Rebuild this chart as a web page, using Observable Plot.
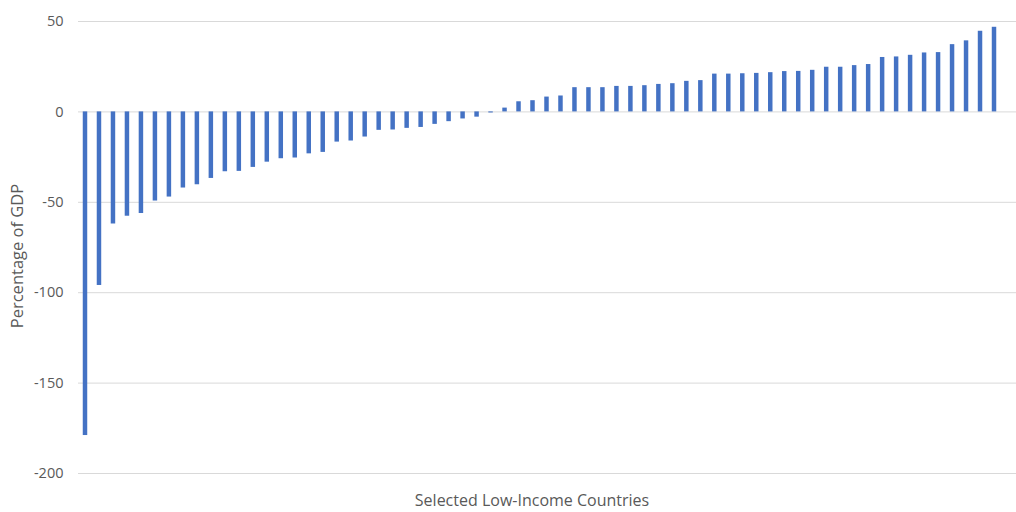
<!DOCTYPE html>
<html>
<head>
<meta charset="utf-8">
<script src="https://cdn.jsdelivr.net/npm/d3@7"></script>
<script src="https://cdn.jsdelivr.net/npm/@observablehq/plot@0.6"></script>
<style>
  html, body { margin: 0; padding: 0; background: #fff; }
  #chart { width: 1016px; height: 512px; }
</style>
</head>
<body>
<div id="chart"></div>
<script>
const values = [
  -179, -96, -62, -57.7, -56.2, -49.3, -47.1, -42.1, -40.3, -36.8,
  -33.1, -32.9, -30.7, -27.8, -25.9, -25.5, -23.2, -22.4, -16.7, -16.1,
  -13.9, -10.2, -10.0, -9.1, -8.6, -6.9, -5.4, -3.9, -2.9, -0.6,
  2.1, 5.6, 6.2, 8.2, 8.8, 13.4, 13.4, 13.4, 14.1, 14.1,
  14.5, 15.2, 15.6, 16.9, 17.3, 20.9, 20.9, 21.1, 21.3, 21.7,
  22.3, 22.4, 23.0, 24.7, 24.7, 25.6, 26.2, 30.1, 30.4, 31.3,
  32.6, 32.8, 37.2, 39.3, 44.6, 46.8
];
const countries = values.map((_, i) => "Country " + (i + 1));
const yTicks = [-200, -150, -100, -50, 0, 50];
const xTitle = "Selected Low-Income Countries";
const yTitle = "Percentage of GDP";

const data = countries.map((c, i) => ({country: c, value: values[i]}));

const font = "'Open Sans', 'Noto Sans', sans-serif";
const textColor = "#595959";

const chart = Plot.plot({
  width: 1016,
  height: 512,
  marginLeft: 78,
  marginRight: 0,
  marginTop: 21,
  marginBottom: 39,
  style: {fontFamily: font, fontSize: "14px", color: textColor, background: "#fff"},
  x: {domain: countries, range: [78, 1001], paddingInner: 0.68, paddingOuter: 0.34, axis: null},
  y: {domain: [-200, 50], ticks: yTicks, tickFormat: d => String(d), label: null, tickSize: 0, tickPadding: 15, axis: null},
  marks: [
    Plot.ruleY(yTicks, {stroke: "#d9d9d9", strokeWidth: 1}),
    Plot.barY(data, {x: "country", y: "value", fill: "#4472C4"}),
    Plot.axisY({ticks: yTicks, tickFormat: d => String(d), tickSize: 0, tickPadding: 15, label: null, fontSize: 14.5, fill: textColor})
  ]
});

const wrap = document.getElementById("chart");
wrap.appendChild(chart);

const svg = d3.select(chart);
svg.append("text")
  .attr("x", 532)
  .attr("y", 506)
  .attr("text-anchor", "middle")
  .attr("fill", textColor)
  .attr("font-family", font)
  .attr("font-size", 16)
  .text(xTitle);
svg.append("text")
  .attr("transform", "translate(19,256) rotate(-90)")
  .attr("text-anchor", "middle")
  .attr("dominant-baseline", "middle")
  .attr("fill", textColor)
  .attr("font-family", font)
  .attr("font-size", 16.5)
  .text(yTitle);
</script>
</body>
</html>
